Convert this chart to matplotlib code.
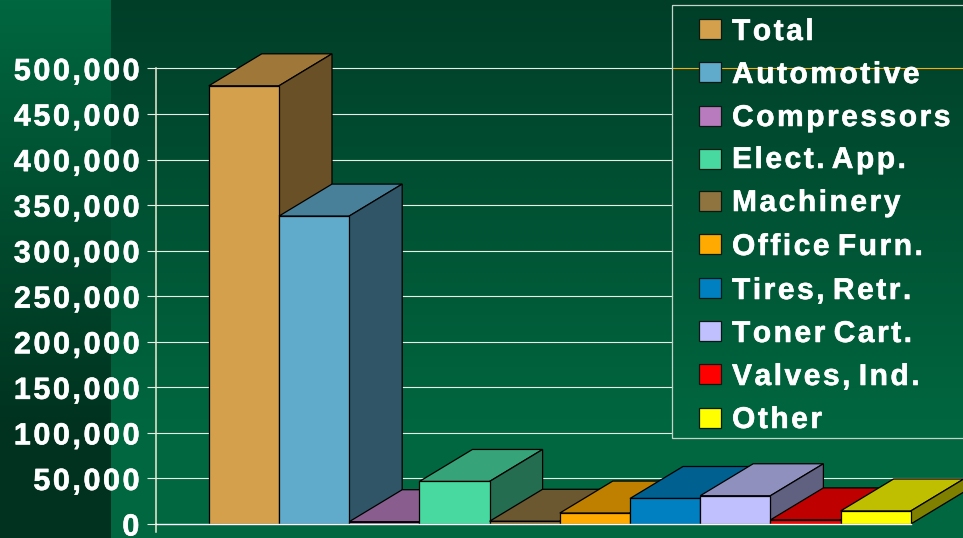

######################
# Modules
import numpy as np
from matplotlib import pyplot as plt
from matplotlib import patheffects
from matplotlib.patches import Polygon, Rectangle
from matplotlib.transforms import Affine2D
######################

categories = ['Total', 'Automotive', 'Compressors', 'Elect. App.', 'Machinery',
              'Office Furn.', 'Tires, Retr.', 'Toner Cart.', 'Valves, Ind.', 'Other']
values = [481000, 338000, 2500, 46700, 3000, 12000, 28000, 31000, 4500, 14300]
y_ticks = [0, 50000, 100000, 150000, 200000, 250000, 300000, 350000, 400000, 450000, 500000]
y_labels = ['0', '50,000', '100,000', '150,000', '200,000', '250,000',
            '300,000', '350,000', '400,000', '450,000', '500,000']

front_colors = ['#D4A04C', '#60AACC', '#B87CBE', '#48D9A0', '#8F7440',
                '#FFAA00', '#0080C0', '#C0C0FF', '#FF0000', '#FFFF00']

W, H = 963, 538
plt.rcParams['font.family'] = ['Liberation Sans', 'DejaVu Sans']
heavy = [patheffects.withStroke(linewidth=0.4, foreground='white')]


def shade(color, f):
    rgb = np.array(plt.matplotlib.colors.to_rgb(color))
    return tuple(rgb * f)


def spaced(s):
    # the slide font is tracked out, hair spaces get close to it
    out = s[0]
    for a, b in zip(s, s[1:]):
        out += b if ' ' in (a, b) else '\u200a' + b
    return out


fig = plt.figure(figsize=(W / 100, H / 100), dpi=100)

# background gradients, they level off a little above the bottom
bg = fig.add_axes([0, 0, 1, 1], zorder=0)
bg.axis('off')
ramp = np.clip(np.linspace(0, 1, 538) * 538 / 430, 0, 1)[:, None, None]
top, bottom = np.array([0, 62, 40]) / 255, np.array([0, 103, 64]) / 255
bg.imshow(top + (bottom - top) * ramp, extent=[0, W, H, 0], aspect='auto')
top, bottom = np.array([0, 103, 64]) / 255, np.array([0, 50, 31]) / 255
bg.imshow(top + (bottom - top) * ramp, extent=[0, 111, H, 0], aspect='auto')
bg.set_xlim(0, W)
bg.set_ylim(H, 0)

# plot area, x unit = one bar wide
y0_px, y500_px = 524, 68.5
x0_px, bar_px = 208.8, 70.2
left_px = 156
ax = fig.add_axes([left_px / W, (H - y0_px) / H, 1 - left_px / W, y0_px / H], zorder=1)
ax.patch.set_alpha(0)
per_px = 500000 / (y0_px - y500_px)
ax.set_ylim(0, y0_px * per_px)
ax.set_xlim((left_px - x0_px) / bar_px, (W - x0_px) / bar_px)
depth_x = 53 / bar_px
depth_y = 32 * per_px

for s in ['top', 'right', 'bottom']:
    ax.spines[s].set_visible(False)
ax.spines['left'].set_color('#EFEBD6')
ax.spines['left'].set_linewidth(1.1)
ax.spines['left'].set_bounds(0, 500000)
ax.plot([ax.get_xlim()[0]] * 2, [0, -8 * per_px], color='#EFEBD6', lw=1.1, clip_on=False)
ax.set_xticks([])
ax.set_yticks(y_ticks, [spaced(t) for t in y_labels])
ax.tick_params(axis='y', length=6.5, width=0.8, color='#E8EEE8', pad=5.5,
               labelcolor='white', labelsize=22)
for t in ax.get_yticklabels():
    t.set_fontweight('bold')
    t.set_verticalalignment('center_baseline')
    t.set_path_effects(heavy)

# grid stops at the legend box unless it runs below it
x_legend = (672 - x0_px) / bar_px
x_right = ax.get_xlim()[1]
for v in y_ticks[2:]:
    ax.plot([ax.get_xlim()[0], x_legend], [v, v], color='#E8EEE8', lw=0.8, zorder=1)
ax.plot([ax.get_xlim()[0], x_right], [50000, 50000], color='#E8EEE8', lw=0.8, zorder=1)
ax.plot([x_legend, x_right], [500000, 500000], color='#FFAA00', lw=0.8, zorder=1)

# 3D bars, painted left to right
n = np.arange(len(values))
for i, v, c in zip(n, values, front_colors):
    z = 2 + i * 0.1
    ax.add_patch(Polygon([(i, v), (i + 1, v), (i + 1 + depth_x, v + depth_y), (i + depth_x, v + depth_y)],
                         facecolor=shade(c, 0.75), edgecolor='black', lw=0.9, zorder=z))
    ax.add_patch(Polygon([(i + 1, 0), (i + 1, v), (i + 1 + depth_x, v + depth_y), (i + 1 + depth_x, depth_y)],
                         facecolor=shade(c, 0.5), edgecolor='black', lw=0.9, zorder=z))
    ax.bar(i, v, width=1, align='edge', color=c, edgecolor='black', lw=0.9, zorder=z + 0.01)
ax.plot([ax.get_xlim()[0], len(values)], [0, 0], color='white', lw=1.0, zorder=4, clip_on=False)

# legend box, in pixels from the top left
px = Affine2D().scale(1, -1).translate(0, H)
fig.add_artist(Rectangle((672, 5), 300, 433, transform=px, facecolor='none',
                         edgecolor='#C4D4CC', lw=0.9, zorder=5))
swatch_y = [19, 62, 106, 149, 191, 234, 278, 321, 364, 408]
baseline_y = [40, 83, 126, 168, 211, 255, 299, 342, 385, 428]
for name, c, sy, by in zip(categories, front_colors, swatch_y, baseline_y):
    fig.add_artist(Rectangle((699, sy), 21.5, 19.5, transform=px, facecolor=c,
                             edgecolor='#0A1A12', lw=0.9, zorder=6))
    fig.text(732, by, spaced(name), transform=px, color='white', fontsize=21.6,
             fontweight='bold', va='baseline', ha='left', zorder=6, path_effects=heavy)

fig.savefig('out.png', dpi=100)
